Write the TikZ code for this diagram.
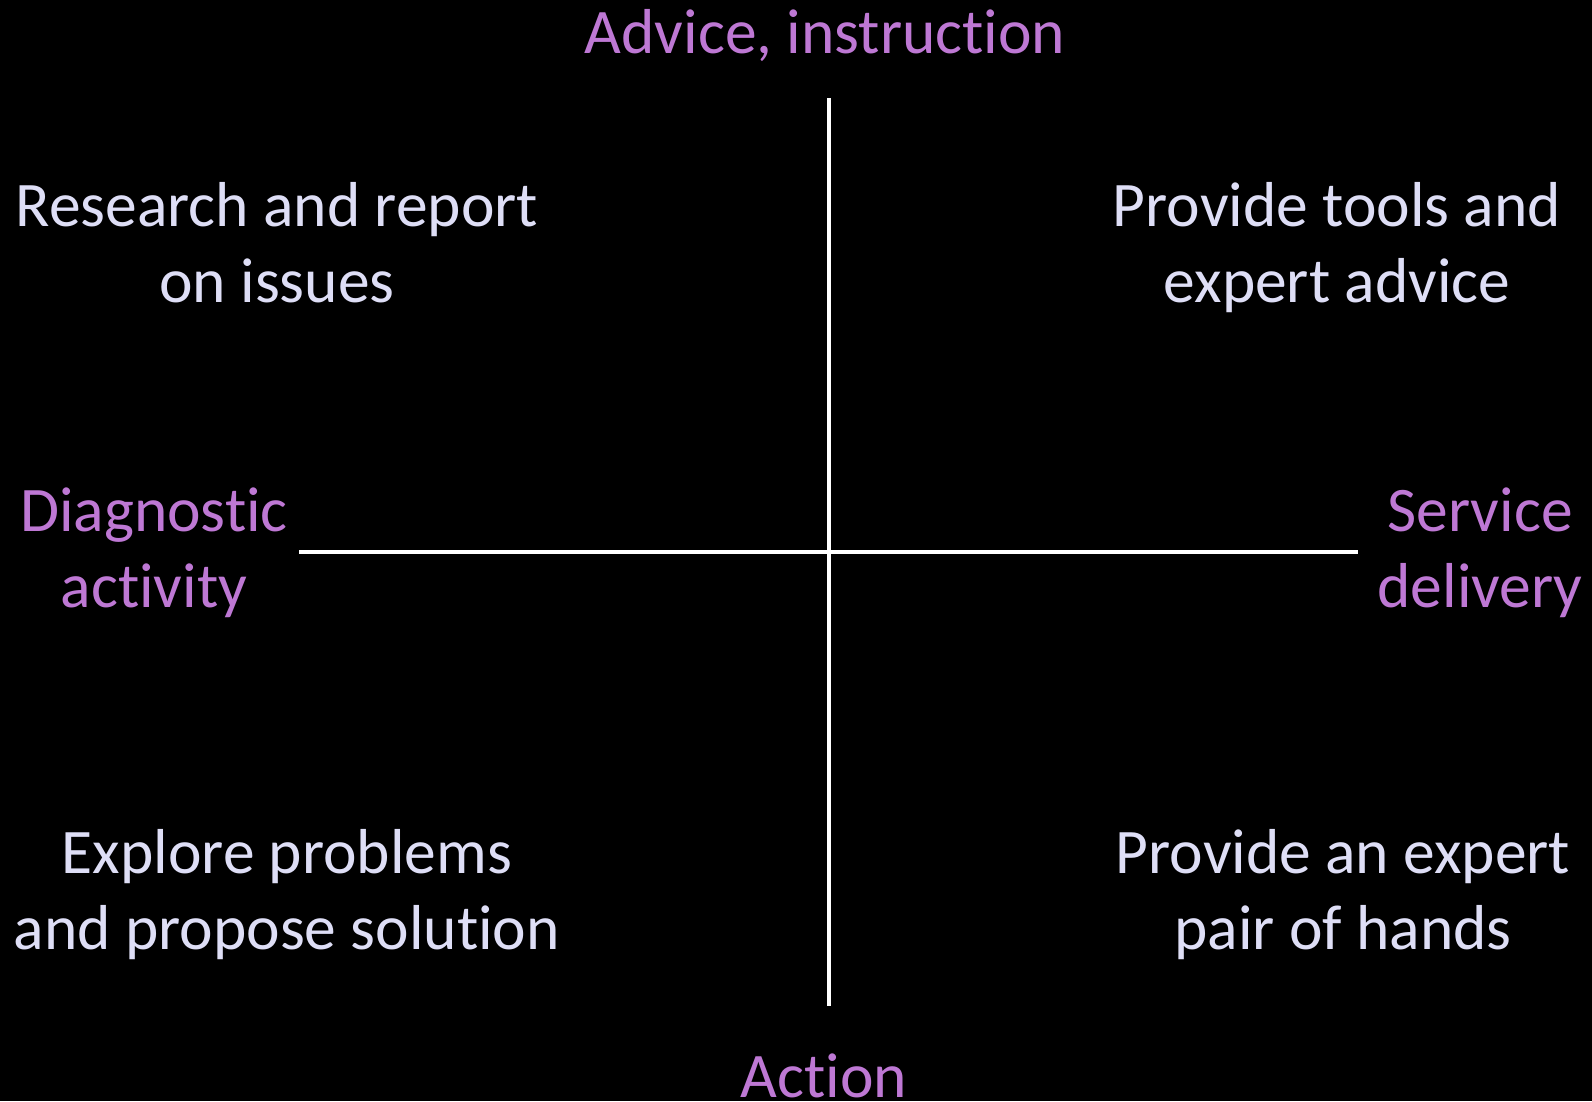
\documentclass[tikz,border=0pt]{standalone}
\usepackage{fontspec}
\setmainfont{Carlito}[Ligatures={NoCommon,NoRequired,NoContextual},RawFeature=-calt]
\definecolor{axislabel}{RGB}{190,120,212}
\definecolor{quadtext}{RGB}{222,222,246}
\begin{document}
\begin{tikzpicture}[x=1pt,y=-1pt,
  label/.style={anchor=base,align=center,inner sep=0pt,
    font=\fontsize{63.5}{76}\selectfont},
  axisname/.style={label,text=axislabel},
  quadname/.style={label,text=quadtext},
  axisline/.style={draw=white,line width=3.5pt}]
  % background
  \fill[black] (0,0) rectangle (1592,1101);
  \useasboundingbox (0,0) rectangle (1592,1101);

  % axes
  \coordinate (top) at (829,98);
  \coordinate (bottom) at (829,1006);
  \coordinate (left) at (299,552);
  \coordinate (right) at (1358,552);
  \draw[axisline] (top) -- (bottom);
  \draw[axisline] (left) -- (right);

  % axis names (two-line nodes are anchored at the baseline of their last line)
  \node[axisname] (advice) at (825,53) {Advice, instruction};
  \node[axisname] (action) at (824,1097) {Action};
  \node[axisname] (diag) at (154,607) {Diagnostic\\activity};
  \node[axisname] (service) at (1480,607) {Service\\delivery};

  % quadrant texts
  \node[quadname] (research) at (277,302) {Research and report\\on issues};
  \node[quadname] (tools) at (1337,302) {Provide tools and\\expert advice};
  \node[quadname] (explore) at (287,949) {Explore problems\\and propose solution};
  \node[quadname] (hands) at (1343,949) {Provide an expert\\pair of hands};
\end{tikzpicture}
\end{document}
